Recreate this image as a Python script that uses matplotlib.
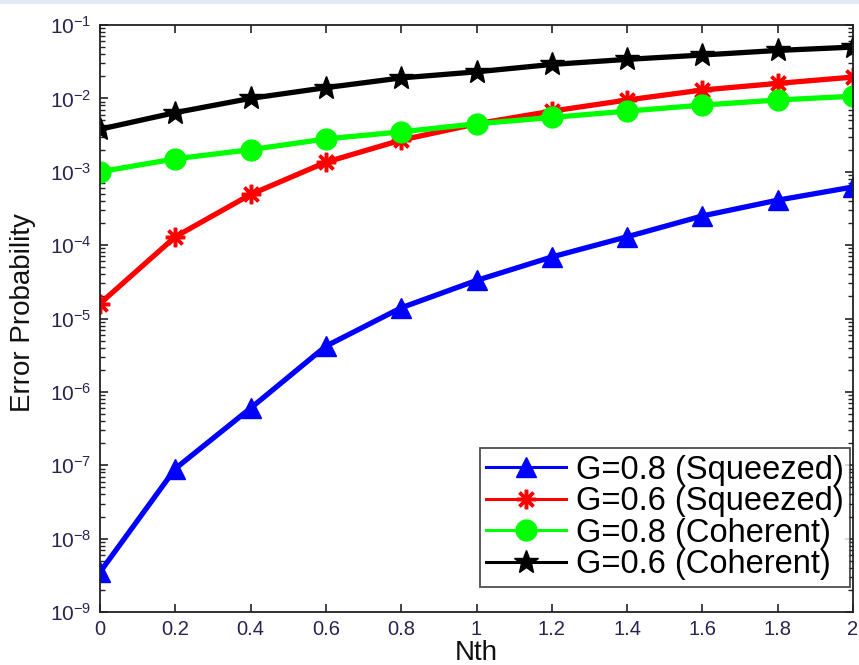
import numpy as np
import matplotlib
matplotlib.use("Agg")
import matplotlib.pyplot as plt
from matplotlib.ticker import LogLocator, NullFormatter, FixedLocator
from matplotlib.patches import Rectangle

plt.rcParams['font.family'] = ['Liberation Sans', 'DejaVu Sans']
plt.rcParams['mathtext.fontset'] = 'custom'
plt.rcParams['mathtext.rm'] = 'Liberation Sans'
plt.rcParams['mathtext.it'] = 'Liberation Sans'
plt.rcParams['axes.unicode_minus'] = False

# ---- data ----
nth = [0, 0.2, 0.4, 0.6, 0.8, 1.0, 1.2, 1.4, 1.6, 1.8, 2.0]
sq_g08 = [3.5e-9, 9e-8, 6e-7, 4.2e-6, 1.4e-5, 3.3e-5, 6.9e-5, 1.3e-4, 2.5e-4, 4.1e-4, 6.2e-4]
sq_g06 = [1.6e-5, 1.3e-4, 4.9e-4, 1.35e-3, 2.7e-3, 4.5e-3, 6.7e-3, 9.5e-3, 1.3e-2, 1.6e-2, 1.95e-2]
coh_g08 = [1.0e-3, 1.5e-3, 2.0e-3, 2.8e-3, 3.5e-3, 4.5e-3, 5.5e-3, 6.7e-3, 8.1e-3, 9.5e-3, 1.07e-2]
coh_g06 = [3.8e-3, 6.4e-3, 1.0e-2, 1.4e-2, 1.9e-2, 2.3e-2, 2.9e-2, 3.4e-2, 3.9e-2, 4.5e-2, 5.0e-2]
labels = ["G=0.8 (Squeezed)", "G=0.6 (Squeezed)", "G=0.8 (Coherent)", "G=0.6 (Coherent)"]
xtick_vals = [0, 0.2, 0.4, 0.6, 0.8, 1, 1.2, 1.4, 1.6, 1.8, 2]
xtick_labels = ['0', '0.2', '0.4', '0.6', '0.8', '1', '1.2', '1.4', '1.6', '1.8', '2']

W, H = 859, 665
fig = plt.figure(figsize=(W / 100, H / 100), dpi=100)
fig.patch.set_facecolor('white')
# faint band at top
fig.patches.append(Rectangle((0, 1 - 4 / H), 1, 4 / H, transform=fig.transFigure,
                             facecolor='#e3e8f6', edgecolor='none'))

L, R, T, B = 100, 853, 25, 612
ax = fig.add_axes([L / W, 1 - B / H, (R - L) / W, (B - T) / H])

lw = 3.8
ax.plot(nth, sq_g08, color=(0, 0, 1), lw=lw, marker='^', ms=14, mfc=(0, 0, 1), mec=(0, 0, 1), label=labels[0])
ax.plot(nth, sq_g06, color=(1, 0, 0), lw=lw, marker=(8, 2, 0), ms=14, mew=2.5, mec=(1, 0, 0), label=labels[1])
ax.plot(nth, coh_g08, color=(0, 1, 0), lw=lw, marker='o', ms=15, mfc=(0, 1, 0), mec=(0, 1, 0), label=labels[2])
ax.plot(nth, coh_g06, color='black', lw=lw, marker='*', ms=18, mfc='black', mec='black', label=labels[3])

ax.set_yscale('log')
ax.set_xlim(0, 2)
ax.set_ylim(1e-9, 1e-1)
ax.xaxis.set_major_locator(FixedLocator(xtick_vals))
ax.set_xticklabels(xtick_labels)
ax.yaxis.set_major_locator(LogLocator(base=10, numticks=20))
ax.yaxis.set_minor_locator(LogLocator(base=10, subs=np.arange(2, 10), numticks=100))
ax.yaxis.set_minor_formatter(NullFormatter())

tick_color = '#2a2350'
ax.tick_params(which='both', direction='in', top=True, right=True, color='#222222')
ax.tick_params(which='major', length=6, width=1.2)
ax.tick_params(which='minor', length=3.5, width=1.0)
ax.tick_params(axis='x', which='major', labelsize=14.5, pad=6, labelcolor=tick_color)
ax.tick_params(axis='y', which='major', labelsize=15, pad=6, labelcolor=tick_color)
for s in ax.spines.values():
    s.set_color('#222222')
    s.set_linewidth(1.3)

ax.set_xlabel('Nth', fontsize=20, color='#111111')
ax.xaxis.set_label_coords(0.5, -0.047)
ax.set_ylabel('Error Probability', fontsize=20, color='#111111')
ax.yaxis.set_label_coords(-0.085, 0.51)

leg = ax.legend(loc='lower right', bbox_to_anchor=(0.996, 0.0426), borderaxespad=0,
                fontsize=23.5, frameon=True, fancybox=False, handlelength=2.45,
                handletextpad=0.28, labelspacing=0.02, borderpad=0.2, markerscale=1.0)
leg.get_frame().set_edgecolor('#222222')
leg.get_frame().set_linewidth(1.3)
for ln in leg.get_lines():
    ln.set_linewidth(2.2)

fig.savefig('out.png', dpi=100, facecolor='white')
